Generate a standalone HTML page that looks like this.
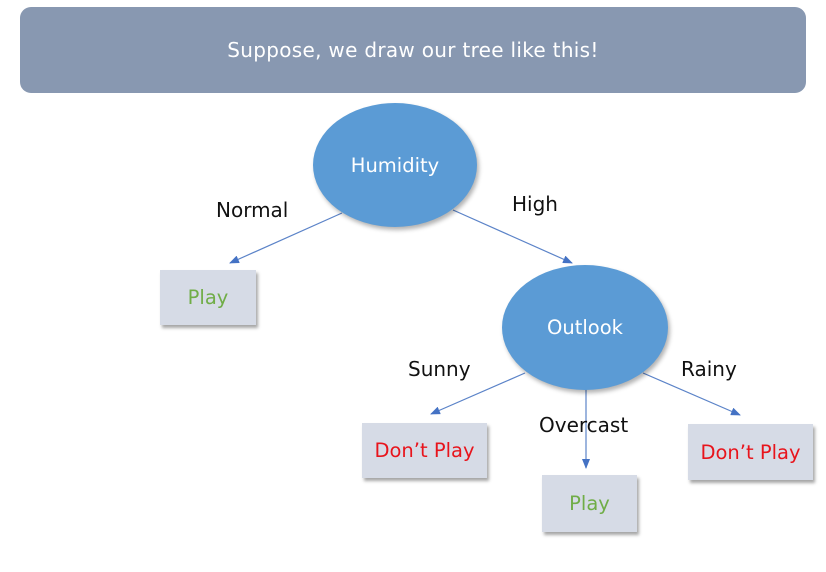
<!DOCTYPE html>
<html><head><style>
body{margin:0;background:#fff;width:826px;height:572px;overflow:hidden;position:relative;font-family:"DejaVu Sans","Liberation Sans",sans-serif}
.banner{position:absolute;left:20px;top:7px;width:786px;height:86px;background:#8898b1;border-radius:11px;color:#fff;font-size:20px;text-align:center;line-height:86px;letter-spacing:0.3px}
.box{position:absolute;background:#d6dbe6;box-shadow:2px 3px 3px rgba(0,0,0,.35);font-size:19.5px;display:flex;align-items:center;justify-content:center}
.g{color:#70ad47}.r{color:#e8141c}
.lbl{position:absolute;font-size:20px;color:#111}
.ell{position:absolute;background:#5b9bd5;border-radius:50%;color:#fff;font-size:19.5px;display:flex;align-items:center;justify-content:center;box-shadow:2px 3px 4px rgba(0,0,0,.3)}
svg{position:absolute;left:0;top:0}
</style></head><body>
<div class="banner">Suppose, we draw our tree like this!</div>
<svg width="826" height="572">
<defs><marker id="a" markerWidth="10" markerHeight="8" refX="9" refY="4" orient="auto" markerUnits="userSpaceOnUse"><path d="M0,0L10,4L0,8z" fill="#4472c4"/></marker></defs>
<g stroke="#5b83c8" stroke-width="1.2" fill="none" marker-end="url(#a)">
<line x1="342" y1="213" x2="230" y2="263"/>
<line x1="453" y1="210" x2="572" y2="263"/>
<line x1="525" y1="373" x2="431" y2="414"/>
<line x1="643" y1="373" x2="740" y2="415"/>
<line x1="586" y1="388" x2="586" y2="468"/>
</g></svg>
<div class="ell" style="left:313px;top:103px;width:164px;height:124px">Humidity</div>
<div class="ell" style="left:502px;top:265px;width:166px;height:125px">Outlook</div>
<div class="box g" style="left:160px;top:270px;width:96px;height:55px">Play</div>
<div class="box r" style="left:362px;top:423px;width:125px;height:55px">Don’t Play</div>
<div class="box g" style="left:542px;top:475px;width:95px;height:57px">Play</div>
<div class="box r" style="left:688px;top:424px;width:125px;height:56px">Don’t Play</div>
<div class="lbl" style="left:216px;top:198px">Normal</div>
<div class="lbl" style="left:512px;top:192px">High</div>
<div class="lbl" style="left:408px;top:357px">Sunny</div>
<div class="lbl" style="left:681px;top:357px">Rainy</div>
<div class="lbl" style="left:539px;top:413px">Overcast</div>
</body></html>
